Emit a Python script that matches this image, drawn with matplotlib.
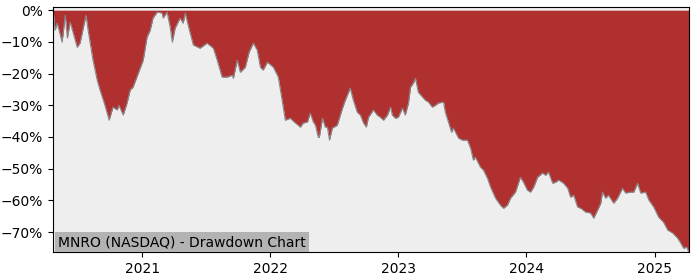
#!/usr/bin/env python3

""" Drawdown chart for MNRO (NASDAQ) """

import pandas as pd
import matplotlib
matplotlib.use('Agg')
import matplotlib.pyplot as plt
import matplotlib.dates as mdates
from matplotlib.ticker import FuncFormatter

# drawdown (%).
dates = ['2020-04-22', '2020-04-28', '2020-05-04', '2020-05-18', '2020-05-27',
         '2020-06-02', '2020-06-10', '2020-06-19', '2020-06-30', '2020-07-08',
         '2020-07-14', '2020-07-25', '2020-07-31', '2020-08-14', '2020-08-26',
         '2020-09-03', '2020-09-17', '2020-09-29', '2020-10-10', '2020-10-22',
         '2020-10-27', '2020-11-08', '2020-11-19', '2020-11-28', '2020-12-06',
         '2020-12-21', '2021-01-04', '2021-01-15', '2021-01-24', '2021-02-01',
         '2021-02-13', '2021-02-27', '2021-03-02', '2021-03-13', '2021-03-22',
         '2021-03-28', '2021-04-05', '2021-04-19', '2021-04-28', '2021-05-04',
         '2021-05-12', '2021-05-27', '2021-06-15', '2021-07-05', '2021-07-23',
         '2021-08-03', '2021-08-17', '2021-09-01', '2021-09-15', '2021-09-18',
         '2021-09-29', '2021-10-08', '2021-10-22', '2021-11-02', '2021-11-14',
         '2021-11-25', '2021-12-04', '2021-12-12', '2021-12-24', '2022-01-10',
         '2022-01-24', '2022-02-04', '2022-02-13', '2022-02-27', '2022-03-14',
         '2022-03-28', '2022-04-05', '2022-04-17', '2022-04-25', '2022-05-04',
         '2022-05-10', '2022-05-18', '2022-05-21', '2022-05-30', '2022-06-07',
         '2022-06-13', '2022-06-19', '2022-06-27', '2022-07-11', '2022-07-26',
         '2022-08-03', '2022-08-17', '2022-08-26', '2022-09-06', '2022-09-15',
         '2022-09-24', '2022-10-02', '2022-10-08', '2022-10-22', '2022-11-02',
         '2022-11-11', '2022-11-20', '2022-12-01', '2022-12-10', '2022-12-15',
         '2022-12-24', '2023-01-01', '2023-01-13', '2023-01-21', '2023-01-30',
         '2023-02-05', '2023-02-13', '2023-02-19', '2023-02-27', '2023-03-11',
         '2023-03-19', '2023-03-28', '2023-04-08', '2023-04-17', '2023-04-25',
         '2023-05-10', '2023-05-15', '2023-05-24', '2023-06-02', '2023-06-07',
         '2023-06-22', '2023-07-03', '2023-07-17', '2023-07-26', '2023-08-03',
         '2023-08-09', '2023-08-23', '2023-09-01', '2023-09-12', '2023-09-21',
         '2023-10-05', '2023-10-19', '2023-10-28', '2023-11-08', '2023-11-17',
         '2023-12-01', '2023-12-15', '2023-12-24', '2024-01-04', '2024-01-13',
         '2024-01-22', '2024-02-02', '2024-02-16', '2024-02-25', '2024-03-04',
         '2024-03-16', '2024-03-24', '2024-04-02', '2024-04-16', '2024-04-28',
         '2024-05-06', '2024-05-15', '2024-05-26', '2024-06-04', '2024-06-18',
         '2024-07-02', '2024-07-11', '2024-07-22', '2024-07-31', '2024-08-05',
         '2024-08-14', '2024-08-22', '2024-09-06', '2024-09-17', '2024-10-01',
         '2024-10-10', '2024-10-24', '2024-11-02', '2024-11-13', '2024-11-22',
         '2024-12-06', '2024-12-15', '2024-12-29', '2025-01-12', '2025-01-26',
         '2025-02-07', '2025-02-21', '2025-03-07', '2025-03-16', '2025-03-24',
         '2025-04-02', '2025-04-08']

drawdown = [0.0, -6.3, -4.1, -10.1, -1.6,
            -8.8, -3.8, -7.3, -11.7, -10.4,
            -7.3, -1.6, -6.3, -15.8, -22.1,
            -25.2, -30.0, -34.7, -30.6, -31.5,
            -30.0, -33.1, -29.3, -25.2, -24.3,
            -19.9, -15.8, -8.5, -6.3, -2.5,
            -0.6, -0.9, -2.5, -0.6, -5.4,
            -10.1, -5.7, -2.5, -4.1, -0.9,
            -4.7, -11.0, -12.0, -10.4, -12.0,
            -15.8, -21.1, -21.1, -20.5, -21.5,
            -15.8, -19.6, -18.0, -13.2, -10.4,
            -12.6, -18.0, -18.9, -16.4, -18.0,
            -21.1, -28.4, -34.7, -34.1, -35.6,
            -36.9, -35.6, -35.3, -32.5, -35.3,
            -36.3, -40.1, -40.1, -34.1, -36.9,
            -36.9, -41.0, -37.2, -36.3, -30.9,
            -28.4, -24.6, -28.4, -32.2, -33.1,
            -35.6, -36.9, -33.8, -31.5, -33.1,
            -33.8, -34.7, -33.1, -30.6, -33.1,
            -34.1, -33.8, -30.9, -33.1, -29.3,
            -24.3, -23.0, -21.5, -25.9, -27.4,
            -28.4, -29.0, -30.6, -30.0, -29.3,
            -29.0, -32.2, -35.3, -38.5, -37.2,
            -40.4, -41.0, -41.0, -43.5, -47.3,
            -46.4, -49.5, -50.5, -53.0, -55.8,
            -59.3, -61.5, -62.5, -61.5, -59.3,
            -57.4, -52.7, -54.3, -56.8, -57.4,
            -55.8, -52.7, -51.4, -52.1, -51.1,
            -54.6, -54.3, -53.6, -54.6, -56.2,
            -59.0, -58.4, -62.1, -62.5, -63.7,
            -64.0, -65.6, -63.1, -60.9, -57.4,
            -59.3, -58.4, -60.9, -59.3, -56.2,
            -57.7, -57.4, -57.4, -54.6, -57.7,
            -57.4, -59.9, -62.1, -65.3, -66.9,
            -69.4, -70.3, -71.9, -73.5, -75.1,
            -74.8, -76.3]

title = 'MNRO (NASDAQ) - Drawdown Chart'

dd = pd.Series(drawdown, index=pd.to_datetime(dates))

fig = plt.figure(figsize=(7, 2.8), dpi=100)
ax = fig.add_axes([0.0757, 0.1, 0.9083, 0.875])
ax.set_facecolor('#eeeeee')

ax.fill_between(dd.index, dd.values, 0, color='#b03030', lw=0)
ax.plot(dd.index, dd.values, color='#888888', lw=0.8)

ax.set_xlim(dd.index[0], dd.index[-1])
ax.set_ylim(dd.min(), 1.0)

ax.set_yticks(range(-70, 1, 10))
ax.yaxis.set_major_formatter(
    FuncFormatter(lambda v, p: f'{v:.0f}%'.replace('-', '\u2212')))
ax.xaxis.set_major_locator(mdates.YearLocator())
ax.xaxis.set_major_formatter(mdates.DateFormatter('%Y'))

ax.text(0.008, 0.012, title, transform=ax.transAxes, fontsize=10,
        ha='left', va='bottom',
        bbox=dict(facecolor='#b3b3b3', edgecolor='none', pad=2))

fig.savefig('out.png', dpi=100)
